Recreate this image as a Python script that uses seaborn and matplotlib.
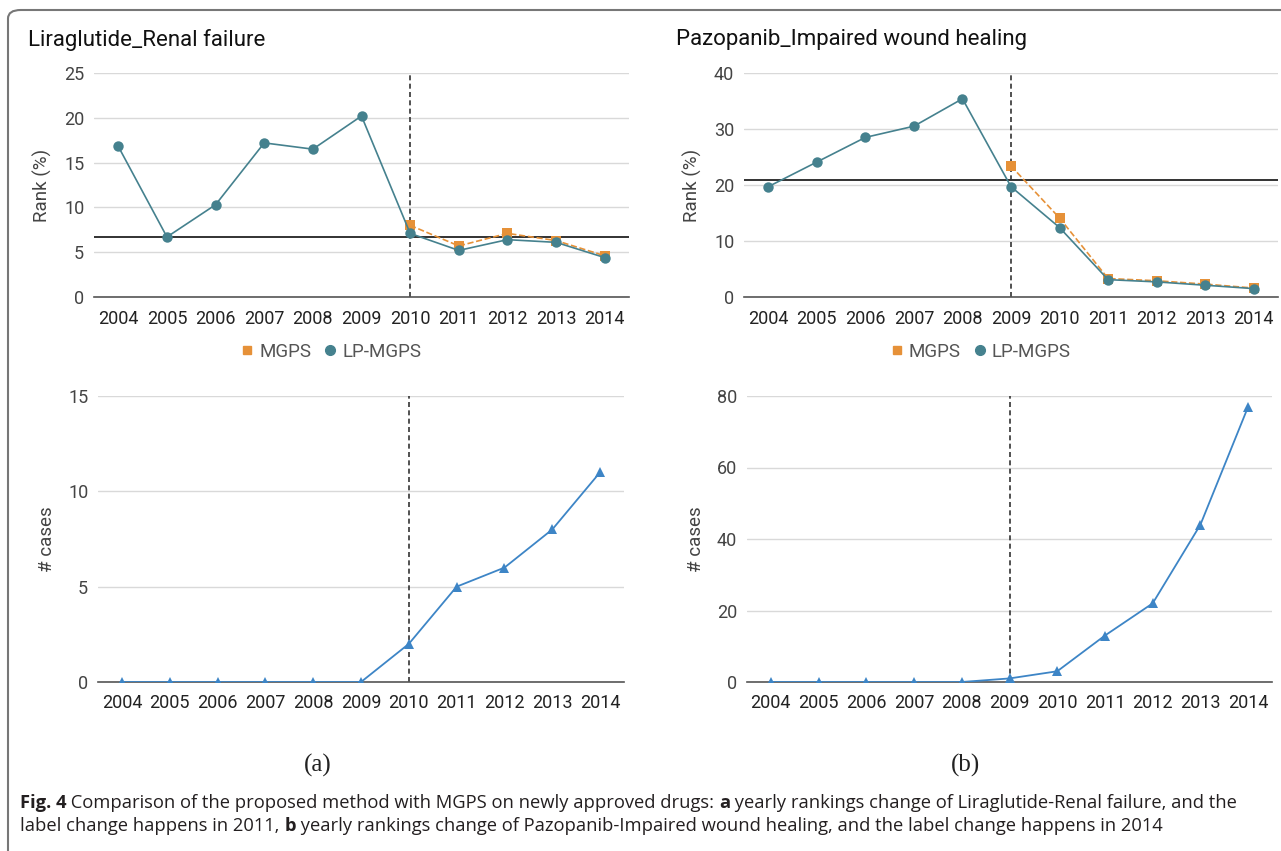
import matplotlib
matplotlib.use("Agg")
import matplotlib.pyplot as plt
import seaborn as sns
from matplotlib.lines import Line2D
from matplotlib.patches import FancyBboxPatch

# data
years = [2004, 2005, 2006, 2007, 2008, 2009, 2010, 2011, 2012, 2013, 2014]

lira_lp = [16.8, 6.7, 10.3, 17.2, 16.5, 20.2, 7.1, 5.2, 6.4, 6.1, 4.4]
lira_mgps_years = [2010, 2011, 2012, 2013, 2014]
lira_mgps = [8.0, 5.7, 7.1, 6.3, 4.6]
lira_ref = 6.7
lira_change = 2010
lira_cases = [0, 0, 0, 0, 0, 0, 2, 5, 6, 8, 11]

pazo_lp = [19.7, 24.1, 28.5, 30.5, 35.4, 19.7, 12.4, 3.1, 2.7, 2.1, 1.5]
pazo_mgps_years = [2009, 2010, 2011, 2012, 2013, 2014]
pazo_mgps = [23.4, 14.1, 3.3, 2.9, 2.3, 1.6]
pazo_ref = 20.9
pazo_change = 2009
pazo_cases = [0, 0, 0, 0, 0, 1, 3, 13, 22, 44, 77]

c_lp = "#45818e"
c_mgps = "#e69138"
c_cases = "#3d85c6"

sns.set_theme(style="white")
plt.rcParams['font.family'] = ['Roboto', 'DejaVu Sans']

W, H = 1281, 851
fig = plt.figure(figsize=(W / 100, H / 100), dpi=100)


def px_axes(x0, y0, x1, y1):
    return fig.add_axes([x0 / W, 1 - y1 / H, (x1 - x0) / W, (y1 - y0) / H])


def style(ax, ymax, yticks, ylabel):
    ax.set_xlim(2003.5, 2014.5)
    ax.set_ylim(0, ymax)
    ax.set_xticks(years)
    ax.set_xticklabels([str(y) for y in years])
    ax.set_yticks(yticks)
    ax.yaxis.grid(True, color="#d9d9d9", lw=1)
    ax.xaxis.grid(False)
    for s in ["top", "right", "left"]:
        ax.spines[s].set_visible(False)
    ax.spines["bottom"].set_color("#555555")
    ax.spines["bottom"].set_linewidth(1.2)
    ax.tick_params(axis="x", length=0, pad=9, labelsize=13, labelcolor="#222222")
    ax.tick_params(axis="y", length=0, pad=7, labelsize=13, labelcolor="#444444")
    ax.set_ylabel(ylabel, fontsize=13.5, color="#444444", labelpad=9)
    ax.set_xlabel("")
    ax.set_axisbelow(True)


def rank_panel(ax, lp, mgps_years, mgps, ref, change, ymax, yticks):
    ax.axhline(ref, color="#222222", lw=1.3, zorder=2)
    ax.axvline(change, color="#333333", lw=1.2, ls=(0, (3, 2)), zorder=2)
    sns.lineplot(x=mgps_years, y=mgps, ax=ax, color=c_mgps, lw=1.2, ls="--",
                 marker="s", markersize=6.5, markeredgewidth=0, zorder=3)
    sns.lineplot(x=years, y=lp, ax=ax, color=c_lp, lw=1.2,
                 marker="o", markersize=7.5, markeredgewidth=0, zorder=4)
    style(ax, ymax, yticks, "Rank (%)")
    handles = [Line2D([], [], ls="none", marker="s", color=c_mgps, markersize=6),
               Line2D([], [], ls="none", marker="o", color=c_lp, markersize=7)]
    ax.legend(handles, ["MGPS", "LP-MGPS"], loc="upper center",
              bbox_to_anchor=(0.44, -0.13), ncol=2, frameon=False,
              fontsize=13.5, labelcolor="#555555", handletextpad=0.15,
              columnspacing=0.5, handlelength=1.0)


def cases_panel(ax, cases, change, ymax, yticks):
    ax.axvline(change, color="#333333", lw=1.2, ls=(0, (3, 2)), zorder=2)
    sns.lineplot(x=years, y=cases, ax=ax, color=c_cases, lw=1.3,
                 marker="^", markersize=7.5, markeredgewidth=0, zorder=4)
    style(ax, ymax, yticks, "# cases")


ax1 = px_axes(94, 73, 629, 297)
rank_panel(ax1, lira_lp, lira_mgps_years, lira_mgps, lira_ref, lira_change,
           25, [0, 5, 10, 15, 20, 25])
ax2 = px_axes(744, 73, 1278, 297)
rank_panel(ax2, pazo_lp, pazo_mgps_years, pazo_mgps, pazo_ref, pazo_change,
           40, [0, 10, 20, 30, 40])
ax3 = px_axes(98, 396, 624, 682)
cases_panel(ax3, lira_cases, lira_change, 15, [0, 5, 10, 15])
ax4 = px_axes(747, 396, 1272, 682)
cases_panel(ax4, pazo_cases, pazo_change, 80, [0, 20, 40, 60, 80])

fig.text(28 / W, 1 - 40 / H, "Liraglutide_Renal failure", fontsize=16,
         color="#111111", va="center", ha="left")
fig.text(676 / W, 1 - 40 / H, "Pazopanib_Impaired wound healing", fontsize=16,
         color="#111111", va="center", ha="left")

fig.text(318 / W, 1 - 765 / H, "(a)", fontsize=18, family="Liberation Serif",
         ha="center", va="center", color="#222222")
fig.text(966 / W, 1 - 765 / H, "(b)", fontsize=18, family="Liberation Serif",
         ha="center", va="center", color="#222222")

# outer frame with rounded corner
frame = FancyBboxPatch((8 / W, -0.1), 1.2, 1 - 10 / H + 0.1,
                       boxstyle="round,pad=0,rounding_size=0.01",
                       transform=fig.transFigure, fill=False,
                       edgecolor="#777777", lw=1.5, clip_on=False)
fig.patches.append(frame)

# caption with bold pieces
caption = [
    (803, [("Fig. 4", "bold"),
           (" Comparison of the proposed method with MGPS on newly approved drugs: ", "normal"),
           ("a", "bold"),
           (" yearly rankings change of Liraglutide-Renal failure, and the", "normal")]),
    (826, [("label change happens in 2011, ", "normal"),
           ("b", "bold"),
           (" yearly rankings change of Pazopanib-Impaired wound healing, and the label change happens in 2014", "normal")]),
]
fig.canvas.draw()
renderer = fig.canvas.get_renderer()
for ypx, pieces in caption:
    x = 20
    for txt, weight in pieces:
        t = fig.text(x / W, 1 - ypx / H, txt, fontsize=13.2, weight=weight,
                     family="Open Sans", color="#231f20", va="center", ha="left")
        bb = t.get_window_extent(renderer)
        x += bb.width

fig.savefig("out.png", dpi=100)
